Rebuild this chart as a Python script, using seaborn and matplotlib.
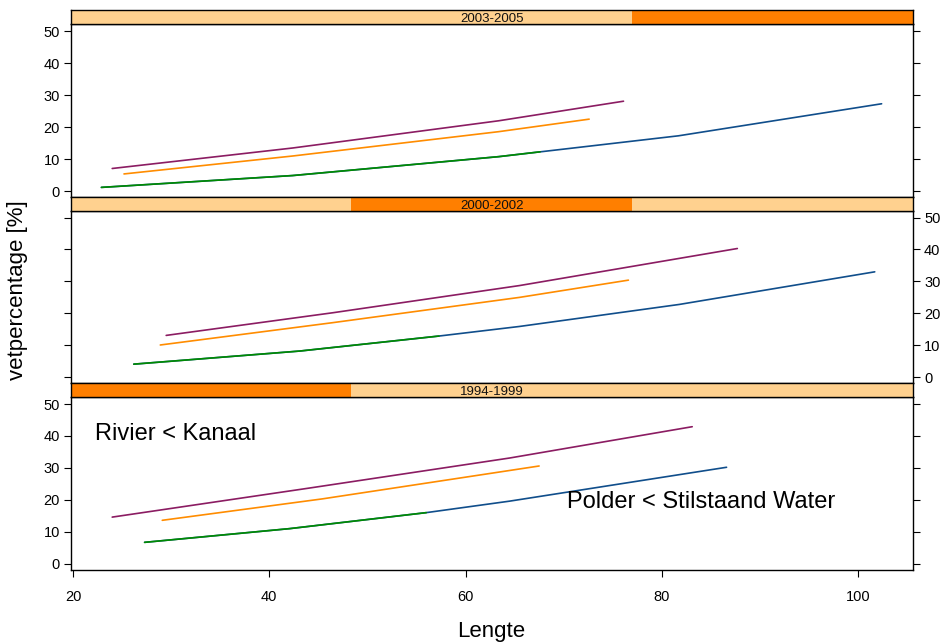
import numpy as np
import pandas as pd
import seaborn as sns
import matplotlib.pyplot as plt

# periods, top panel first
periods = ["2003-2005", "2000-2002", "1994-1999"]
series = ["Kanaal", "Rivier", "Stilstaand Water", "Polder"]
colors = {"Kanaal": "#8B1C62", "Rivier": "#FF8C00",
          "Stilstaand Water": "#104E8B", "Polder": "#008B00"}

# values (Lengte, vetpercentage)
kanaal_x = [[24.0, 42.4, 63.4, 76.1], [29.5, 46.5, 65.5, 87.7], [24.0, 44.1, 64.5, 83.1]]
kanaal_y = [[7.1, 13.5, 22.0, 28.1], [13.1, 20.2, 28.7, 40.3], [14.6, 23.7, 33.1, 42.9]]
rivier_x = [[25.2, 42.4, 63.4, 72.6], [28.9, 46.5, 65.5, 76.6], [29.1, 45.4, 64.5, 67.5]]
rivier_y = [[5.4, 11.0, 18.6, 22.5], [10.1, 17.1, 25.0, 30.4], [13.6, 20.3, 29.2, 30.6]]
stil_x = [[22.9, 42.4, 63.4, 81.7, 102.4], [26.2, 43.1, 57.3, 65.5, 81.8, 101.7], [27.3, 42.1, 56.0, 64.5, 86.6]]
stil_y = [[1.2, 4.9, 10.8, 17.3, 27.3], [4.1, 8.2, 12.9, 15.9, 22.8, 33.0], [6.7, 11.0, 16.0, 19.6, 30.2]]
polder_x = [[22.9, 42.4, 63.4, 67.6], [26.2, 43.1, 57.3], [27.3, 42.1, 56.0]]
polder_y = [[1.2, 4.9, 10.8, 12.3], [4.1, 8.2, 12.9], [6.7, 11.0, 16.0]]

rows = []
for i, p in enumerate(periods):
    for name, xs, ys in [("Kanaal", kanaal_x, kanaal_y), ("Rivier", rivier_x, rivier_y),
                         ("Stilstaand Water", stil_x, stil_y), ("Polder", polder_x, polder_y)]:
        for x, y in zip(xs[i], ys[i]):
            rows.append({"periode": p, "serie": name, "Lengte": x, "vet": y})
df = pd.DataFrame(rows)

# shingle range shown in each strip (fraction of strip width)
strip_ranges = [(0.666, 1.0), (0.333, 0.666), (0.0, 0.333)]

sns.set_style("white")
plt.rcParams["font.family"] = ["Liberation Sans", "DejaVu Sans"]
plt.rcParams["text.color"] = "black"
plt.rcParams["xtick.color"] = "black"
plt.rcParams["ytick.color"] = "black"

W, H = 945, 644
fig = plt.figure(figsize=(W / 100, H / 100), dpi=100)

def rect(l, t, r, b):
    return [l / W, 1 - b / H, (r - l) / W, (b - t) / H]

strips = [(9.5, 24), (197, 210.5), (383, 397)]
panels = [(24, 197), (210.5, 383), (397, 569.5)]
L, R = 71, 913

for i, p in enumerate(periods):
    ax = fig.add_axes(rect(L, panels[i][0], R, panels[i][1]))
    sub = df[df.periode == p]
    sns.lineplot(data=sub, x="Lengte", y="vet", hue="serie", hue_order=series,
                 palette=colors, estimator=None, sort=False, legend=False,
                 linewidth=1.2, ax=ax)
    ax.set_xlim(19.8, 105.6)
    ax.set_ylim(-1.8, 52.2)
    ax.set_xticks([20, 40, 60, 80, 100])
    ax.set_yticks([0, 10, 20, 30, 40, 50])
    ax.set_xlabel("")
    ax.set_ylabel("")
    for s in ax.spines.values():
        s.set_color("black")
        s.set_linewidth(1.0)
    ax.tick_params(direction="out", length=5, width=0.8, color="black",
                   labelcolor="black", labelsize=10.5, pad=3)
    if i == 0:
        ax.tick_params(axis="x", top=True, bottom=False, labeltop=False, labelbottom=False)
    elif i == 1:
        ax.tick_params(axis="x", top=False, bottom=False, labeltop=False, labelbottom=False)
    else:
        ax.tick_params(axis="x", top=False, bottom=True, labelbottom=True, pad=10)
    if i == 1:
        ax.tick_params(axis="y", left=True, right=True, labelleft=False, labelright=True)
    else:
        ax.tick_params(axis="y", left=True, right=True, labelleft=True, labelright=False)
    if i == 2:
        ax.text(22.2, 40.7, "Rivier < Kanaal", fontsize=17, ha="left", va="center")
        ax.text(70.3, 19.4, "Polder < Stilstaand Water", fontsize=17, ha="left", va="center")

    sax = fig.add_axes(rect(L, strips[i][0], R, strips[i][1]))
    sax.set_xlim(0, 1)
    sax.set_ylim(0, 1)
    sax.set_facecolor("#FFD18F")
    sax.axvspan(strip_ranges[i][0], strip_ranges[i][1], color="#FF7F00", lw=0)
    sax.text(0.5, 0.35, p, ha="center", va="center", fontsize=9.5, color="#111111")
    sax.set_xticks([])
    sax.set_yticks([])
    for s in sax.spines.values():
        s.set_color("black")
        s.set_linewidth(1.0)

fig.text(491 / W, 1 - 631 / H, "Lengte", ha="center", va="center", fontsize=16)
fig.text(18 / W, 1 - 290 / H, "vetpercentage [%]", ha="center", va="center",
         rotation=90, fontsize=16)

fig.savefig("out.png", dpi=100)
